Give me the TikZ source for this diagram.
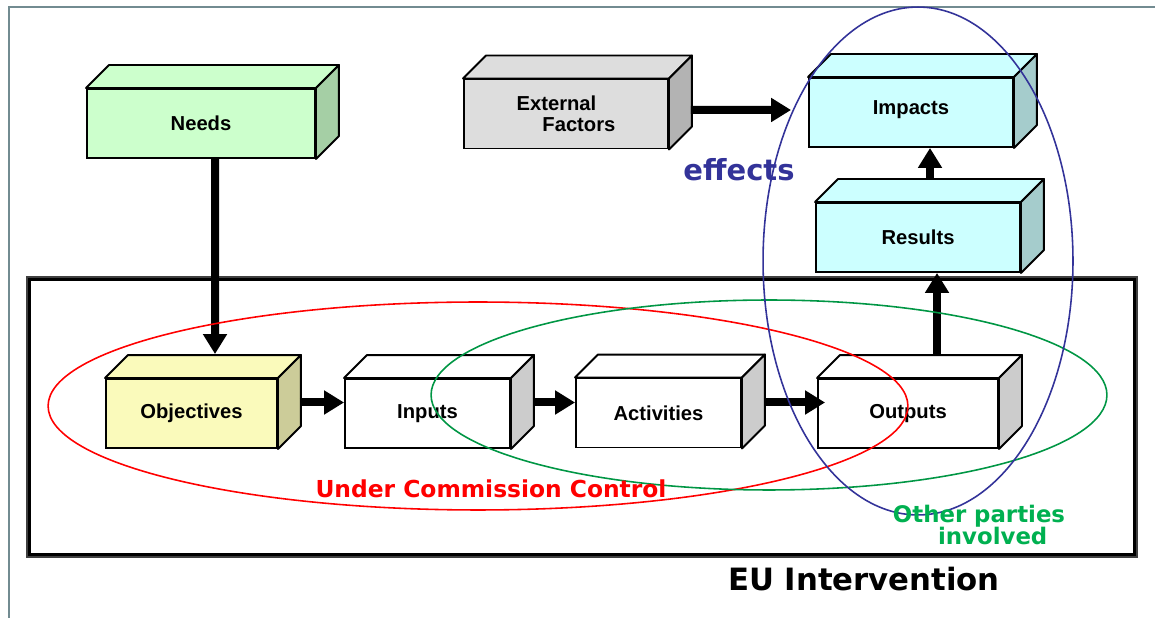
\documentclass[tikz,border=0pt]{standalone}
\usepackage{fontspec}
\setmainfont{Liberation Sans}
\newfontfamily\verd{DejaVu Sans}
\usetikzlibrary{shapes,positioning,calc,arrows.meta}

\definecolor{needsfill}{HTML}{CCFFCC}
\definecolor{needsside}{HTML}{A5CFA5}
\definecolor{extfill}{HTML}{DDDDDD}
\definecolor{extside}{HTML}{B3B3B3}
\definecolor{cyanfill}{HTML}{CCFFFF}
\definecolor{cyanside}{HTML}{A5CCCC}
\definecolor{objfill}{HTML}{FAFABB}
\definecolor{objside}{HTML}{CCCC99}
\definecolor{grayside}{HTML}{CCCCCC}
\definecolor{effblue}{HTML}{333399}
\definecolor{othergreen}{HTML}{00B050}
\definecolor{slideframe}{HTML}{728B91}

\tikzset{
  box/.style={draw, line width=1.1pt, minimum height=1.38cm, inner sep=0pt,
    font=\bfseries\fontsize{11.5}{13}\selectfont},
  face/.style={draw, line width=1.1pt, line join=round},
  bigarrow/.style={line width=0.16cm, -{Triangle[length=0.4cm, width=0.46cm]}},
  bigtext/.style={font=\verd\bfseries\fontsize{#1}{#1}\selectfont}
}

\begin{document}
\begin{tikzpicture}[x=0.02cm, y=0.02cm]
\useasboundingbox (0,0) rectangle (1155,618);

% slide frame and intervention frame
\draw[slideframe, line width=1pt] (9,0) -- (9,611) -- (1155,611);
\draw[darkgray, line width=0.6pt] (27,61) rectangle (1137,341);
\draw[black, line width=1.6pt] (29.5,63.5) rectangle (1134.5,338.5);

% boxes
\node[box, fill=needsfill, minimum width=4.56cm]  (needs)      at (201,494.5)  {Needs};
\node[box, fill=extfill, minimum width=4.08cm, align=left] (ext) at (566,504)
      {External\\[-1pt]\hspace*{14.7pt}Factors};
\node[box, fill=cyanfill, minimum width=4.08cm]   (impacts)    at (911,505.5)  {\raisebox{6pt}{Impacts}};
\node[box, fill=cyanfill, minimum width=4.08cm]   (results)    at (918,380.5)  {\raisebox{-3pt}{Results}};
\node[box, fill=objfill, minimum width=3.42cm]    (objectives) at (191.5,204.5) {Objectives};
\node[box, fill=white, minimum width=3.3cm]       (inputs)     at (427.5,204.5) {Inputs};
\node[box, fill=white, minimum width=3.3cm]       (activities) at (658.5,205)   {Activities};
\node[box, fill=white, minimum width=3.6cm]       (outputs)    at (908,204.5)   {Outputs};

\foreach \n/\fc/\sc in {needs/needsfill/needsside, ext/extfill/extside,
    impacts/cyanfill/cyanside, results/cyanfill/cyanside,
    objectives/objfill/objside, inputs/white/grayside,
    activities/white/grayside, outputs/white/grayside}{
  \draw[face, fill=\fc] (\n.north west) -- ++(23,23) -- ($(\n.north east)+(23,23)$) -- (\n.north east) -- cycle;
  \draw[face, fill=\sc] (\n.north east) -- ++(23,23) -- ($(\n.south east)+(23,23)$) -- (\n.south east) -- cycle;
}

% arrows
\draw[bigarrow] ($(needs.south)+(14,0)$) -- ($(objectives.north)+(23.5,24)$);
\draw[bigarrow] ($(objectives.east)+(22,11)$) -- ($(inputs.west)+(0,11)$);
\draw[bigarrow] ($(inputs.east)+(22,11)$) -- ($(activities.west)+(0,10.5)$);
\draw[bigarrow] ($(activities.east)+(22,10.5)$) -- ($(outputs.west)+(8,11)$);
\draw[bigarrow] ($(outputs.north)+(29,23)$) -- ($(results.south)+(19,0)$);
\draw[bigarrow] ($(results.north)+(12,23)$) -- ($(impacts.south)+(19,0)$);
\draw[bigarrow] ($(ext.east)+(22,4)$) -- ($(impacts.west)+(-17,2.5)$);

% groupings
\draw[red, line width=0.9pt] (478,212) ellipse [x radius=8.6cm, y radius=2.08cm];
\draw[othergreen!85!black, line width=0.9pt] (769,223) ellipse [x radius=6.76cm, y radius=1.9cm];
\draw[effblue, line width=0.9pt] (918,357) ellipse [x radius=3.1cm, y radius=5.08cm];

% labels
\node[bigtext=16.5, text=effblue] (effects) at (739,448) {effects};
\node[bigtext=13.3, text=red] (control) at (491,129) {Under Commission Control};
\node[bigtext=13, text=othergreen, align=center] (others) at (979,93) {Other parties\\\hspace*{1.2em}involved};
\node[bigtext=17.5] (eu) at (864,39) {EU Intervention};
\end{tikzpicture}
\end{document}
